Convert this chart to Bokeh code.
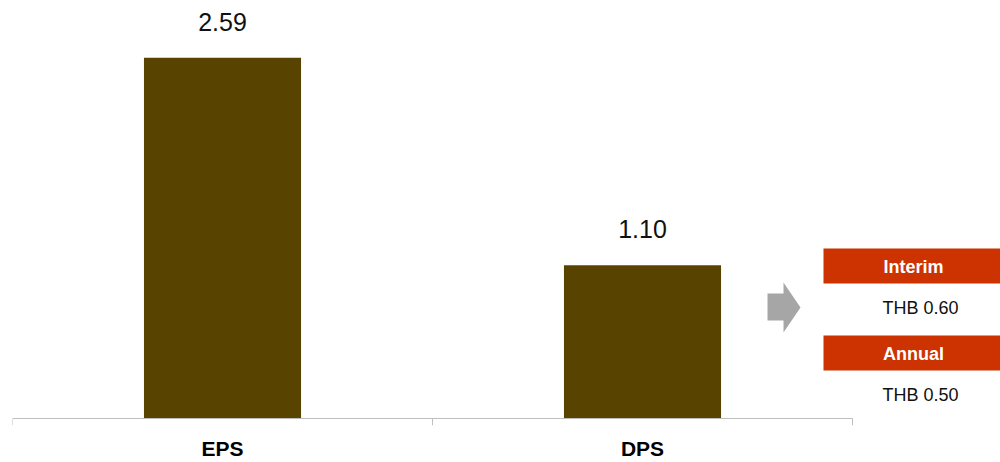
from bokeh.plotting import figure
from bokeh.models import (Range1d, LinearAxis, FixedTicker, ColumnDataSource,
                          BoxAnnotation, Label, PolyAnnotation)
from bokeh.embed import file_html
from bokeh.resources import INLINE
from bokeh.core.properties import value

# ---- data ----
categories = ["EPS", "DPS"]
values = [2.59, 1.10]
value_labels = ["2.59", "1.10"]
dividend_parts = ["Interim", "Annual"]
dividend_amounts = ["THB 0.60", "THB 0.50"]

FONT = "Liberation Sans"
BAR_COLOR = "#584400"
RED = "#CC3300"
AXIS_GREY = "#BFBFBF"

Y_MAX = 3.0
SLOT_PX = 420                 # width of one category slot in pixels
TICK_DEPTH = 7 / 139.33       # 7 px expressed in data units
FRAME_BOTTOM = 425            # canvas y of the plot frame's bottom edge

n = len(categories)
positions = [i + 0.5 for i in range(n)]      # slot centres on the category scale
bounds = list(range(n + 1))                  # slot boundaries

p = figure(width=1000, height=462,
           x_range=Range1d(0, n + 148 / SLOT_PX),   # extra room on the right for the panel
           y_range=Range1d(-TICK_DEPTH, Y_MAX), output_backend="svg", toolbar_location=None,
           x_axis_location=None, y_axis_location=None,
           min_border_left=12, min_border_right=0, min_border_top=0,
           min_border_bottom=462 - FRAME_BOTTOM)
p.outline_line_color = None
p.xgrid.visible = False
p.ygrid.visible = False
p.background_fill_color = "white"

src = ColumnDataSource(dict(x=positions, cat=categories, val=values, lab=value_labels))
p.vbar(x="x", top="val", width=0.374, source=src, fill_color=BAR_COLOR, line_color=None)
p.text(x="x", y="val", text="lab", source=src, text_align="center", text_baseline="alphabetic",
       y_offset=-36, text_font=value(FONT), text_font_size="25px", text_color="#111111")

# baseline and category boundary ticks
p.segment(x0=[bounds[0]], x1=[bounds[-1]], y0=[0], y1=[0], line_color=AXIS_GREY, line_width=1)
p.segment(x0=bounds, x1=bounds, y0=[0] * len(bounds), y1=[-TICK_DEPTH] * len(bounds),
          line_color=AXIS_GREY, line_width=1)

cat_axis = LinearAxis(ticker=FixedTicker(ticks=positions),
                      major_label_overrides={pos: c for pos, c in zip(positions, categories)},
                      axis_line_color=None, major_tick_line_color=None,
                      minor_tick_line_color=None, major_label_standoff=5,
                      major_label_text_font=FONT, major_label_text_font_size="21px",
                      major_label_text_font_style="bold", major_label_text_color="#000000")
p.add_layout(cat_axis, "below")

# arrow pointing at the dividend breakdown
arrow = PolyAnnotation(xs=[767, 783, 783, 800, 783, 783, 767], ys=[293, 293, 282, 307, 332, 320, 320],
                       xs_units="canvas", ys_units="canvas",
                       fill_color="#A6A6A6", fill_alpha=1, line_color=None)
p.add_layout(arrow)

# dividend breakdown panel
box_tops = [248, 335]
for part, amount, top in zip(dividend_parts, dividend_amounts, box_tops):
    p.add_layout(BoxAnnotation(left=823, right=1000, top=top, bottom=top + 35,
                               left_units="canvas", right_units="canvas",
                               top_units="canvas", bottom_units="canvas",
                               fill_color=RED, fill_alpha=1, line_color=None))
    p.add_layout(Label(x=913, y=top + 18, text=part, x_units="canvas", y_units="canvas",
                       text_align="center", text_baseline="middle", text_font=FONT,
                       text_font_size="18px", text_font_style="bold", text_color="white"))
    p.add_layout(Label(x=920, y=top + 59, text=amount, x_units="canvas", y_units="canvas",
                       text_align="center", text_baseline="middle", text_font=FONT,
                       text_font_size="18px", text_color="#111111"))

open("out.html", "w").write(file_html(p, INLINE))
